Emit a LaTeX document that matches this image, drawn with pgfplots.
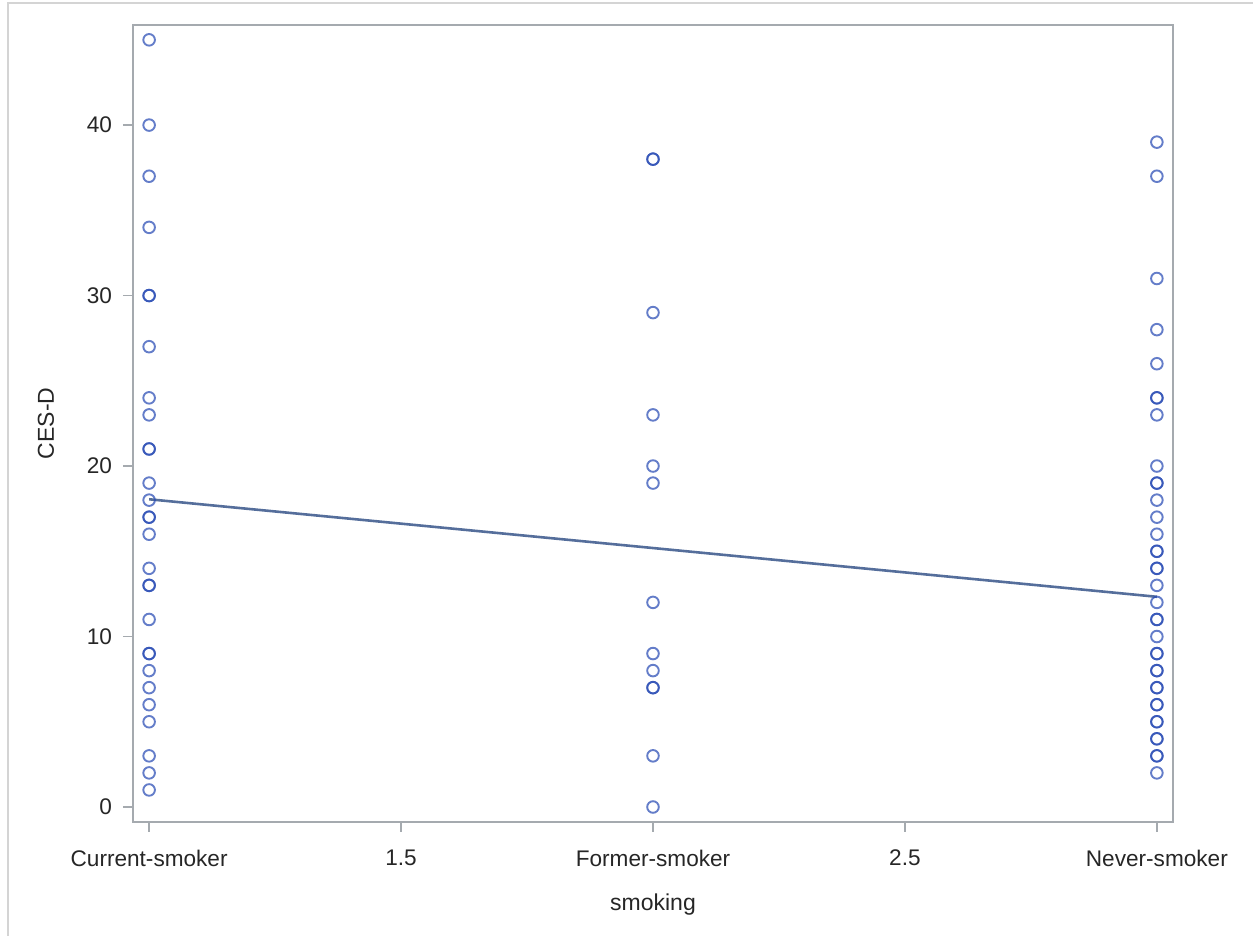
\documentclass[border=0pt]{standalone}
\usepackage{pgfplots}
\pgfplotsset{compat=1.18}
\usepackage{fontspec}
\setmainfont{Liberation Sans}
\definecolor{mk}{RGB}{40,75,180}
\definecolor{fit}{RGB}{85,110,155}
\definecolor{frm}{RGB}{165,170,175}
\definecolor{outer}{RGB}{212,212,212}
\begin{document}
\begin{tikzpicture}[x=1pt,y=1pt]
% picture: 1253x936 px at 0.5pt/px; axis box from (133,25) to (1173,822) px
\useasboundingbox (-66.5,-57) rectangle (560,411);
\draw[outer,line width=1pt] (-62.5,-57) -- (-62.5,409.5) -- (560,409.5);
\begin{axis}[
  at={(0,0)}, anchor=south west,
  scale only axis, width=520pt, height=398.5pt,
  xmin=0.968, xmax=3.032, ymin=-0.88, ymax=45.87,
  xtick={1,1.5,2,2.5,3},
  xticklabels={Current-smoker,1.5,Former-smoker,2.5,Never-smoker},
  ytick={0,10,20,30,40},
  /pgf/number format/assume math mode=true,
  tick align=outside, tick pos=left,
  major tick length=5pt,
  axis line style={frm, line width=0.8pt},
  every tick/.style={frm, line width=0.8pt},
  ticklabel style={font=\fontsize{11.3}{13}\selectfont, text=black!85},
  label style={font=\fontsize{11.5}{13}\selectfont, text=black!85},
  xticklabel style={yshift=-5.5pt},
  yticklabel style={xshift=-2pt},
  xlabel={smoking}, ylabel={CES-D},
  xlabel style={yshift=-6.5pt},
  ylabel style={yshift=9.5pt},
  clip=false,
]
\addplot[only marks, mark=o, mark size=2.9pt, mark options={draw=mk, line width=0.95pt, draw opacity=0.72}] table {
x y
1 45
1 40
1 37
1 34
1 30
1 30
1 27
1 24
1 23
1 21
1 21
1 19
1 18
1 17
1 17
1 16
1 14
1 13
1 13
1 11
1 9
1 9
1 8
1 7
1 6
1 5
1 3
1 2
1 1
2 38
2 38
2 29
2 23
2 20
2 19
2 12
2 9
2 8
2 7
2 7
2 3
2 0
3 39
3 37
3 31
3 28
3 26
3 24
3 24
3 23
3 20
3 19
3 19
3 18
3 17
3 16
3 15
3 15
3 14
3 14
3 13
3 12
3 11
3 11
3 10
3 9
3 9
3 8
3 8
3 7
3 7
3 6
3 6
3 5
3 5
3 4
3 4
3 3
3 3
3 2
};
\addplot[fit, line width=1.3pt] coordinates {(1,18.05) (3,12.33)};
\end{axis}
\end{tikzpicture}
\end{document}
